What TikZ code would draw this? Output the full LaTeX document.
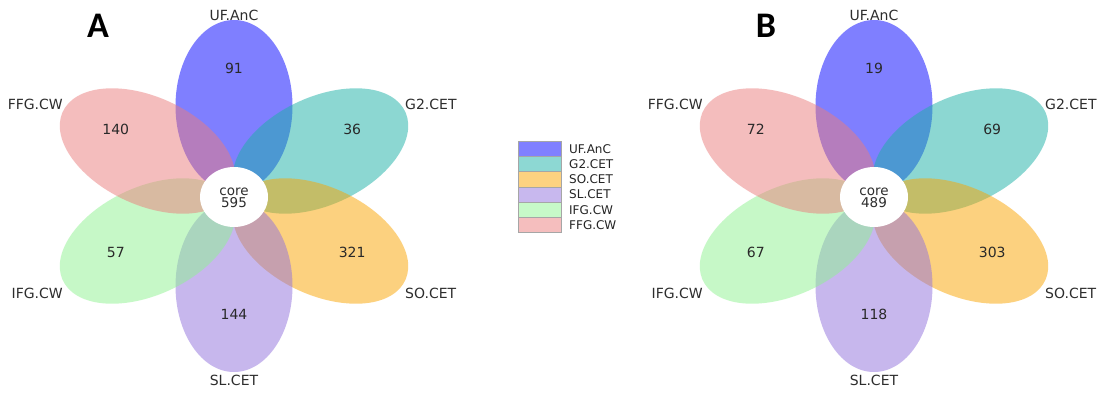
\documentclass[tikz,border=0pt]{standalone}
\usepackage{fontspec}
\newfontfamily\labfont{DejaVu Sans}
\newfontfamily\panelfont{Carlito}
\definecolor{cUF}{RGB}{1,1,255}
\definecolor{cGT}{RGB}{27,177,167}
\definecolor{cSO}{RGB}{251,165,0}
\definecolor{cSL}{RGB}{145,113,221}
\definecolor{cIFG}{RGB}{143,243,145}
\definecolor{cFFG}{RGB}{235,125,125}
\definecolor{txt}{RGB}{45,45,45}
\tikzset{
  petal/.style={fill=#1, fill opacity=0.5, draw=none},
  lab/.style={font=\labfont\fontsize{14}{14}\selectfont, text=txt, inner sep=0pt},
  num/.style={font=\labfont\fontsize{14}{14}\selectfont, text=txt!90!black, inner sep=0pt},
  corelab/.style={font=\labfont\fontsize{13.5}{12}\selectfont, text=txt, align=center, inner sep=0pt},
  panel/.style={font=\panelfont\bfseries\fontsize{36}{36}\selectfont, inner sep=0pt, anchor=base},
  legbox/.style={draw=gray!70, line width=0.9pt, fill=#1!50!white, minimum width=43pt, minimum height=15.3pt, inner sep=0pt},
  legtext/.style={font=\labfont\fontsize{12}{12}\selectfont, text=txt!80!black, anchor=west, inner sep=0pt},
}
\newcommand\drawflower[9]{%
  \begin{scope}[shift={(#1,196)}]
    \begin{scope}[xscale=1.11]
      \fill[petal=cUF, rotate=90] (90,0) ellipse [x radius=86, y radius=52.7];
      \fill[petal=cGT, rotate=30] (90,0) ellipse [x radius=86, y radius=52.7];
      \fill[petal=cSO, rotate=-30] (90,0) ellipse [x radius=86, y radius=52.7];
      \fill[petal=cSL, rotate=-90] (90,0) ellipse [x radius=86, y radius=52.7];
      \fill[petal=cIFG, rotate=-150] (90,0) ellipse [x radius=86, y radius=52.7];
      \fill[petal=cFFG, rotate=150] (90,0) ellipse [x radius=86, y radius=52.7];
    \end{scope}
    \fill[white] (0,-1) ellipse [x radius=34, y radius=30];
    \node[corelab] (#2core) at (0,-1.5) {core\\#9};
    \node[num] (#2nUF) at (0,128) {#3};
    \node[num] (#2nGT) at (118.2,66.5) {#4};
    \node[num] (#2nSO) at (118.2,-56.5) {#5};
    \node[num] (#2nSL) at (0,-118) {#6};
    \node[num] (#2nIFG) at (-118.2,-56.5) {#7};
    \node[num] (#2nFFG) at (-118.2,66.5) {#8};
    \node[lab] (#2lUF) at (0,181) {UF.AnC};
    \node[lab] (#2lSL) at (0,-184) {SL.CET};
    \node[lab, anchor=west] (#2lGT) at (171,92) {G2.CET};
    \node[lab, anchor=west] (#2lSO) at (171,-97) {SO.CET};
    \node[lab, anchor=east] (#2lFFG) at (-171,92) {FFG.CW};
    \node[lab, anchor=east] (#2lIFG) at (-171,-97) {IFG.CW};
  \end{scope}}
\begin{document}
\begin{tikzpicture}[x=1pt, y=1pt]
\useasboundingbox (0,0) rectangle (1098,392);
\fill[white] (0,0) rectangle (1098,392);
\drawflower{234}{A}{91}{36}{321}{144}{57}{140}{595}
\drawflower{874}{B}{19}{69}{303}{118}{67}{72}{489}
\node[panel] (panelA) at (98,354) {A};
\node[panel] (panelB) at (766,354) {B};
% legend
\foreach \i/\c/\t in {0/cUF/UF.AnC, 1/cGT/G2.CET, 2/cSO/SO.CET, 3/cSL/SL.CET, 4/cIFG/IFG.CW, 5/cFFG/FFG.CW}{
  \node[legbox=\c] (leg\i) at (539.5, 392-148.7-15.3*\i) {};
  \node[legtext] (legt\i) at (569, 392-148.7-15.3*\i) {\t};
}
\end{tikzpicture}
\end{document}
